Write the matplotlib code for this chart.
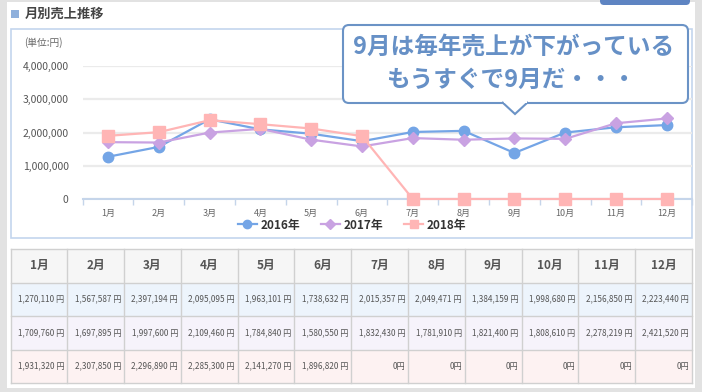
"""Monthly sales dashboard panel: line chart with callout and value table."""

import matplotlib

matplotlib.use("Agg")
import matplotlib.pyplot as plt
import numpy as np
from matplotlib.lines import Line2D
from matplotlib.patches import FancyBboxPatch, Polygon, Rectangle
from matplotlib.ticker import FuncFormatter, MultipleLocator

plt.rcParams["font.family"] = ["Noto Sans CJK JP", "DejaVu Sans"]

W, H = 702, 392

MONTHS = ["1月", "2月", "3月", "4月", "5月", "6月", "7月", "8月", "9月", "10月", "11月", "12月"]
YEARS = ["2016年", "2017年", "2018年"]

# table values
sales_2016 = [1270110, 1567587, 2397194, 2095095, 1963101, 1738632,
              2015357, 2049471, 1384159, 1998680, 2156850, 2223440]
sales_2017 = [1709760, 1697895, 1997600, 2109460, 1784840, 1580550,
              1832430, 1781910, 1821400, 1808610, 2278219, 2421520]
sales_2018 = [1931320, 2307850, 2296890, 2285300, 2141270, 1896820,
              0, 0, 0, 0, 0, 0]
# the plotted 2018 points differ slightly from the table in the screenshot
sales_2018_chart = [1900000, 2010000, 2370000, 2250000, 2120000, 1890000,
                    0, 0, 0, 0, 0, 0]

COLORS = ["#74a5e6", "#c9a2e2", "#ffb5b5"]
MARKERS = ["o", "D", "s"]
MSIZES = [7.5, 6, 8]
ROW_BG = ["#edf4fc", "#f6f3fb", "#fdf2f2"]
CALLOUT = ["9月は毎年売上が下がっている", "もうすぐで9月だ・・・"]


def px(x, y, w, h):
    """pixel box (top-left origin) -> figure fraction rect"""
    return [x / W, 1 - (y + h) / H, w / W, h / H]


fig = plt.figure(figsize=(W / 100, H / 100), dpi=100)
fig.patch.set_facecolor("#e2e2e2")

bg = fig.add_axes([0, 0, 1, 1], zorder=0)
bg.set_xlim(0, W)
bg.set_ylim(H, 0)
bg.axis("off")

# white panel, header button, title
bg.add_patch(Rectangle((7, 2), 688, 386, facecolor="white", edgecolor="none"))
bg.add_patch(FancyBboxPatch((600, -8), 90, 13, boxstyle="round,pad=0,rounding_size=4",
                            facecolor="#5e84c2", edgecolor="none"))
bg.add_patch(Rectangle((11, 10), 8, 8, facecolor="#8fb0dc", edgecolor="none"))
bg.text(25, 14, "月別売上推移", fontsize=9.5, fontweight="bold", color="#444444",
        va="center", ha="left")

# chart frame
bg.add_patch(Rectangle((10.5, 28.5), 681, 209, facecolor="white",
                       edgecolor="#c3d5ee", linewidth=1.2))
bg.text(24, 43, "(単位:円)", fontsize=7, color="#666666", va="center", ha="left")

# line chart
ax = fig.add_axes(px(82.6, 66, 609.6, 133), zorder=2)
ax.patch.set_alpha(0)
x = np.arange(len(MONTHS))
series = [sales_2016, sales_2017, sales_2018_chart]
for vals, color, marker, ms, label in zip(series, COLORS, MARKERS, MSIZES, YEARS):
    ax.plot(x, vals, color=color, linewidth=1.6, marker=marker, markersize=ms,
            markeredgecolor=color, label=label, clip_on=False, zorder=3)

ax.set_xlim(-0.5, 11.5)
ax.set_ylim(0, 4000000)
ax.yaxis.set_major_locator(MultipleLocator(1000000))
ax.yaxis.set_major_formatter(FuncFormatter(lambda v, _: f"{v:,.0f}"))
ax.set_xticks(x)
ax.set_xticklabels(MONTHS)
ax.set_xticks(np.arange(-0.5, 12, 1), minor=True)
ax.tick_params(axis="x", which="major", length=0, pad=7, labelsize=6.5, labelcolor="#666666")
ax.tick_params(axis="x", which="minor", length=4, width=1, color="#c5d5ea")
ax.tick_params(axis="y", length=0, pad=10, labelsize=7.5, labelcolor="#555555")
ax.grid(axis="y", color="#ebebeb", linewidth=1.6)
ax.set_axisbelow(True)
for side in ["top", "right", "left"]:
    ax.spines[side].set_visible(False)
ax.spines["bottom"].set_color("#c5d5ea")
ax.spines["bottom"].set_linewidth(1.5)

handles = [Line2D([], [], color=c, marker=m, markersize=s * 0.8, linewidth=1.6)
           for c, m, s in zip(COLORS, MARKERS, MSIZES)]
leg = fig.legend(handles, YEARS, loc="center", bbox_to_anchor=(352 / W, 1 - 225 / H),
                 ncol=3, frameon=False, handlelength=1.6, handletextpad=0.3,
                 columnspacing=1.8, prop={"weight": "bold", "size": 8.5})
for t in leg.get_texts():
    t.set_color("#333333")

# callout bubble
over = fig.add_axes([0, 0, 1, 1], zorder=5)
over.set_xlim(0, W)
over.set_ylim(H, 0)
over.axis("off")
over.add_patch(FancyBboxPatch((343, 25), 345, 78, boxstyle="round,pad=0,rounding_size=6",
                              facecolor="white", edgecolor="#6b93c6", linewidth=1.5))
over.add_patch(Polygon([(502, 102), (515, 114), (528, 102)], closed=False,
                       facecolor="white", edgecolor="#6b93c6", linewidth=1.5))
over.add_patch(Rectangle((503.5, 100), 23, 3, facecolor="white", edgecolor="none"))
over.text(514, 47, CALLOUT[0], fontsize=17, fontweight="bold", color="#6690c6",
          ha="center", va="center")
over.text(511, 80, CALLOUT[1], fontsize=17, fontweight="bold", color="#6690c6",
          ha="center", va="center")

# value table
tx0, tx1 = 10.5, 692
col_w = (tx1 - tx0) / len(MONTHS)
row_edges = [248.5, 282.5, 316, 349.5, 383]
bg.add_patch(Rectangle((tx0, row_edges[0]), tx1 - tx0, row_edges[-1] - row_edges[0],
                       facecolor="#f6f6f6", edgecolor="none"))
for r, fill in enumerate(ROW_BG):
    bg.add_patch(Rectangle((tx0, row_edges[r + 1]), tx1 - tx0,
                           row_edges[r + 2] - row_edges[r + 1],
                           facecolor=fill, edgecolor="none"))
for yy in row_edges:
    bg.plot([tx0, tx1], [yy, yy], color="#d0d0d0", linewidth=1.0)
for i in range(len(MONTHS) + 1):
    xx = tx0 + i * col_w
    bg.plot([xx, xx], [row_edges[0], row_edges[-1]], color="#d0d0d0", linewidth=1.0)

for i, month in enumerate(MONTHS):
    cx = tx0 + (i + 0.5) * col_w
    bg.text(cx, (row_edges[0] + row_edges[1]) / 2, month, fontsize=8.5,
            fontweight="bold", color="#555555", ha="center", va="center")
    for r, vals in enumerate([sales_2016, sales_2017, sales_2018]):
        v = vals[i]
        label = f"{v:,} 円" if v else "0円"
        bg.text(tx0 + (i + 1) * col_w - 3, (row_edges[r + 1] + row_edges[r + 2]) / 2,
                label, fontsize=5.9, color="#555555", ha="right", va="center")

fig.savefig("out.png", dpi=100, facecolor=fig.get_facecolor())
